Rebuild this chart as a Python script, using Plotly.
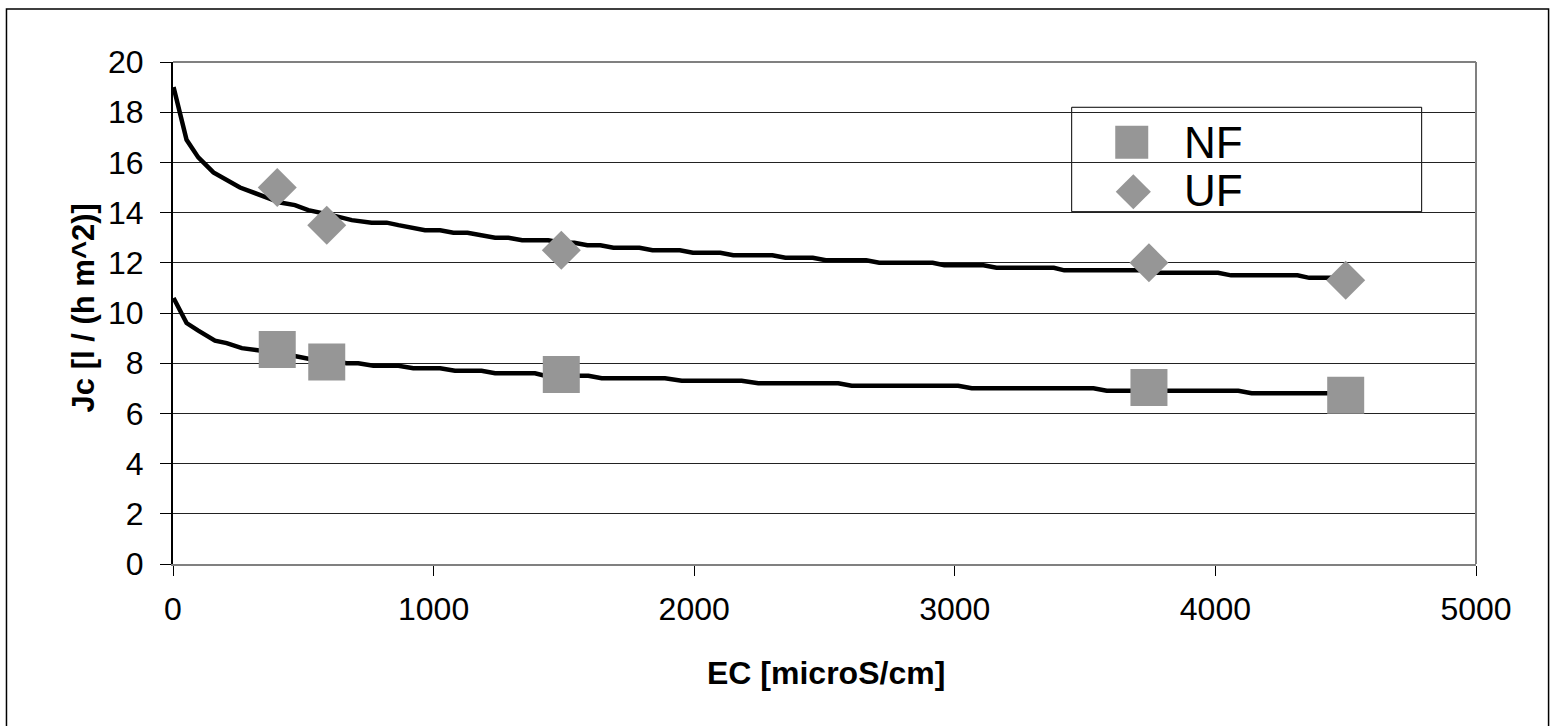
import plotly.graph_objects as go

# Measured permeate flux vs. feed conductivity
ec_points = [400, 590, 1490, 3745, 4500]
nf_flux = [8.55, 8.05, 7.55, 7.03, 6.72]
uf_flux = [15.0, 13.5, 12.5, 12.0, 11.3]

# Trend curves (values as plotted, rounded to 0.1)
uf_fit_x = [2, 52, 97, 155, 257, 353, 411, 468, 519, 609, 686, 762, 820, 865, 967,
            1025, 1076, 1130, 1180, 1236, 1287, 1340, 1440, 1491, 1540, 1590, 1640,
            1690, 1790, 1840, 1945, 1995, 2100, 2150, 2300, 2350, 2455, 2505, 2660,
            2710, 2915, 2960, 3110, 3160, 3380, 3420, 3715, 3760, 4010, 4060, 4315,
            4360, 4505]
uf_fit_y = [19.0, 16.9, 16.2, 15.6, 15.0, 14.6, 14.4, 14.3, 14.1, 13.9, 13.7, 13.6,
            13.6, 13.5, 13.3, 13.3, 13.2, 13.2, 13.1, 13.0, 13.0, 12.9, 12.9, 12.8,
            12.8, 12.7, 12.7, 12.6, 12.6, 12.5, 12.5, 12.4, 12.4, 12.3, 12.3, 12.2,
            12.2, 12.1, 12.1, 12.0, 12.0, 11.9, 11.9, 11.8, 11.8, 11.7, 11.7, 11.6,
            11.6, 11.5, 11.5, 11.4, 11.4]
nf_fit_x = [2, 52, 97, 161, 206, 264, 340, 417, 462, 558, 609, 666, 711, 769, 865,
            922, 1025, 1082, 1184, 1236, 1389, 1427, 1594, 1645, 1888, 1952, 2182,
            2246, 2553, 2604, 3013, 3065, 3532, 3583, 4088, 4139, 4505]
nf_fit_y = [10.6, 9.6, 9.3, 8.9, 8.8, 8.6, 8.5, 8.3, 8.3, 8.1, 8.1, 8.0, 8.0, 7.9,
            7.9, 7.8, 7.8, 7.7, 7.7, 7.6, 7.6, 7.5, 7.5, 7.4, 7.4, 7.3, 7.3, 7.2,
            7.2, 7.1, 7.1, 7.0, 7.0, 6.9, 6.9, 6.8, 6.8]

x_ticks = [0, 1000, 2000, 3000, 4000, 5000]
y_ticks = [0, 2, 4, 6, 8, 10, 12, 14, 16, 18, 20]
series_names = ["NF", "UF"]

FONT = "Liberation Sans, Arial, sans-serif"
GREY = "#969696"

fig = go.Figure()

fig.add_trace(go.Scatter(x=uf_fit_x, y=uf_fit_y, mode="lines",
                         line=dict(color="black", width=4.5), showlegend=False))
fig.add_trace(go.Scatter(x=nf_fit_x, y=nf_fit_y, mode="lines",
                         line=dict(color="black", width=4.5), showlegend=False))
fig.add_trace(go.Scatter(x=ec_points, y=nf_flux, mode="markers", name=series_names[0],
                         marker=dict(symbol="square", size=37, color=GREY, opacity=1,
                                     line=dict(width=0)),
                         showlegend=False))
fig.add_trace(go.Scatter(x=ec_points, y=uf_flux, mode="markers", name=series_names[1],
                         marker=dict(symbol="diamond", size=30, color=GREY, opacity=1,
                                     line=dict(width=0)),
                         showlegend=False))

# Legend symbols drawn on an overlay axis spanning the plot area (0..1 both ways)
fig.add_trace(go.Scatter(x=[0.7358], y=[0.840], mode="markers",
                         xaxis="x2", yaxis="y2", showlegend=False, hoverinfo="skip",
                         marker=dict(symbol="square", size=33, color=GREY, opacity=1,
                                     line=dict(width=0))))
fig.add_trace(go.Scatter(x=[0.737], y=[0.7416], mode="markers",
                         xaxis="x2", yaxis="y2", showlegend=False, hoverinfo="skip",
                         marker=dict(symbol="diamond", size=27, color=GREY, opacity=1,
                                     line=dict(width=0))))

fig.update_layout(
    width=1551, height=726,
    margin=dict(l=173, r=75, t=62, b=162),
    paper_bgcolor="white", plot_bgcolor="white",
    font=dict(family=FONT, color="black", size=32),
    xaxis=dict(range=[0, 5000], tickvals=x_ticks, ticks="outside", ticklen=10,
               tickcolor="black", tickwidth=1, showgrid=False, zeroline=False,
               showline=True, linecolor="#808080", linewidth=2,
               ticklabelstandoff=6, tickfont=dict(size=32)),
    yaxis=dict(range=[0, 20], tickvals=y_ticks, ticks="outside", ticklen=11,
               tickcolor="black", tickwidth=1, showgrid=True, gridcolor="#222222",
               gridwidth=1, zeroline=False, showline=True, linecolor="black",
               linewidth=2, ticklabelstandoff=10, tickfont=dict(size=32)),
    xaxis2=dict(range=[0, 1], overlaying="x", visible=False),
    yaxis2=dict(range=[0, 1], overlaying="y", visible=False),
    showlegend=False,
)

shapes = [
    # plot-area frame (top and right)
    dict(type="line", xref="x domain", yref="y domain", x0=0, x1=1, y0=1, y1=1,
         line=dict(color="#808080", width=2), layer="above"),
    dict(type="line", xref="x domain", yref="y domain", x0=1, x1=1, y0=0, y1=1,
         line=dict(color="#808080", width=2), layer="above"),
    # legend box
    dict(type="rect", xref="x domain", yref="y domain", x0=0.6897, x1=0.9583,
         y0=0.7018, y1=0.9098, fillcolor="white", line=dict(color="black", width=1),
         layer="below"),
    # outer chart frame
    dict(type="rect", xref="paper", yref="paper", x0=-0.1278, x1=1.0557,
         y0=-0.33, y1=1.1056, line=dict(color="black", width=1.5),
         fillcolor="rgba(0,0,0,0)", layer="above"),
]
fig.update_layout(shapes=shapes)

annotations = [
    dict(text=series_names[0], xref="x domain", yref="y domain", x=0.7741, y=0.840,
         xanchor="left", yanchor="middle", showarrow=False, font=dict(size=44)),
    dict(text=series_names[1], xref="x domain", yref="y domain", x=0.7741, y=0.745,
         xanchor="left", yanchor="middle", showarrow=False, font=dict(size=44)),
    dict(text="<b>EC [microS/cm]</b>", xref="paper", yref="paper", x=0.501, y=-0.217,
         xanchor="center", yanchor="middle", showarrow=False, font=dict(size=32)),
    dict(text="<b>Jc [l / (h m^2)]</b>", xref="paper", yref="paper", x=-0.068, y=0.51,
         xanchor="center", yanchor="middle", showarrow=False, textangle=-90,
         font=dict(size=31)),
]
fig.update_layout(annotations=annotations)

fig.write_html("out.html")
